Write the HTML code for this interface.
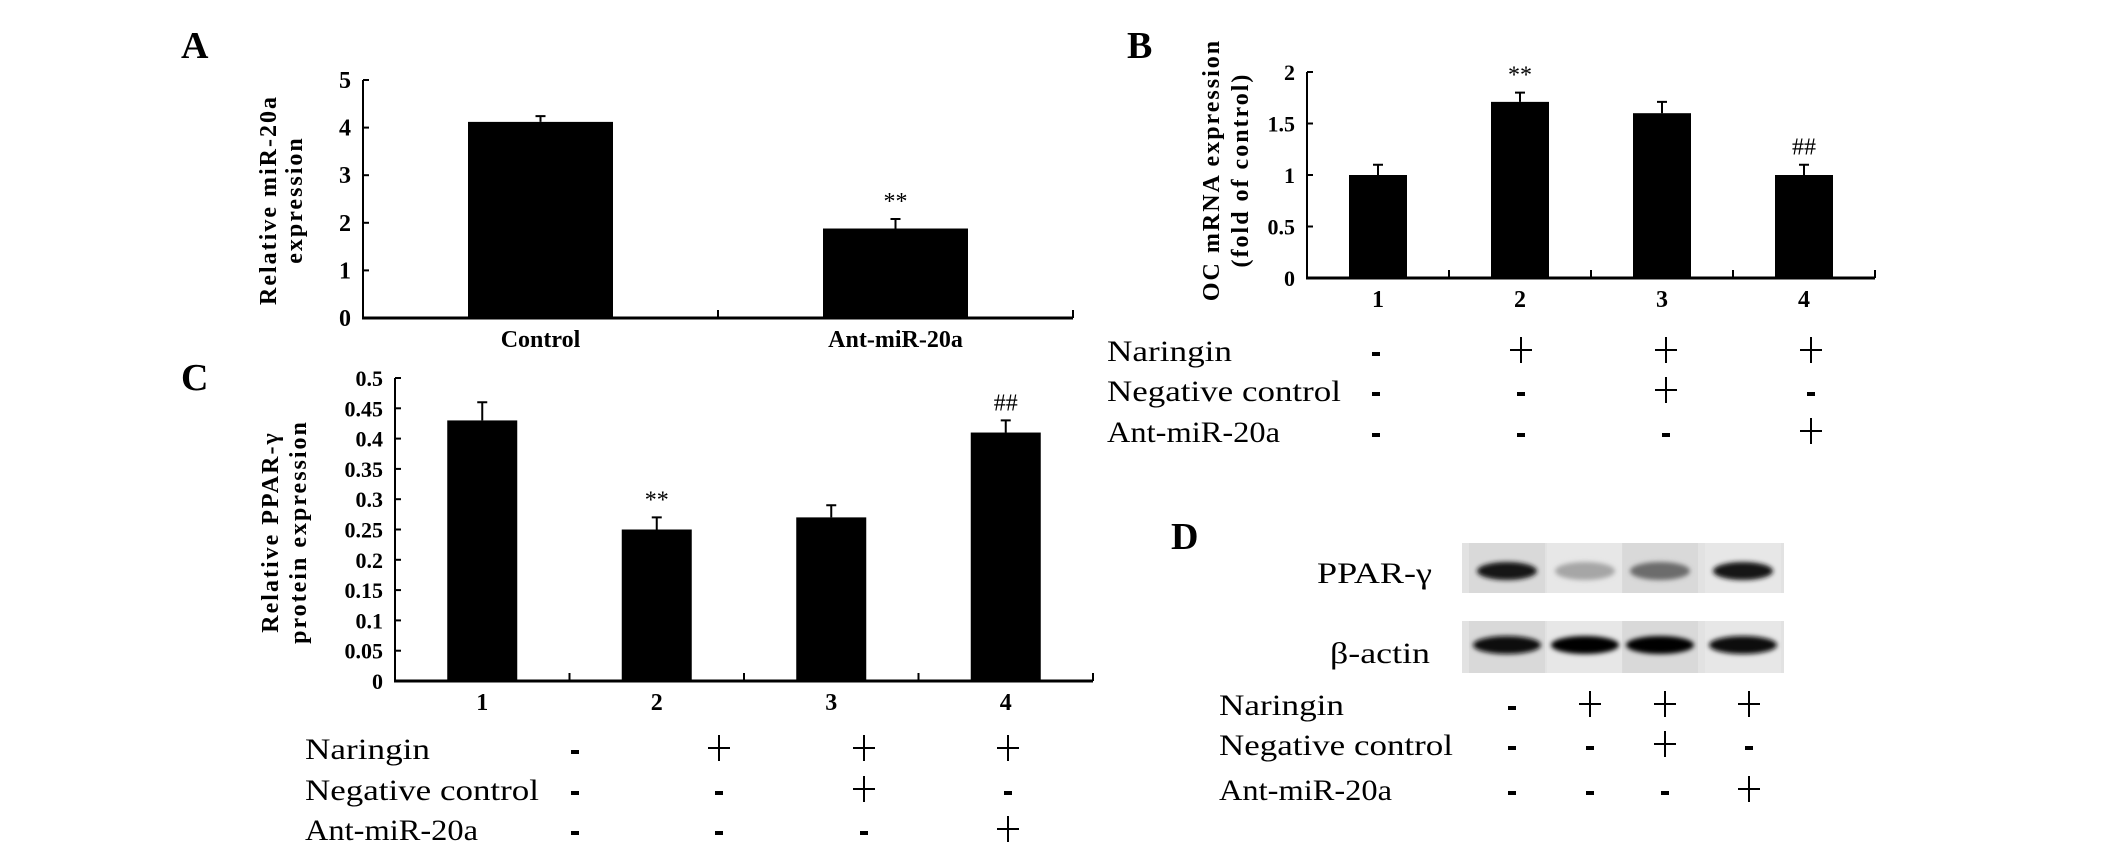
<!DOCTYPE html>
<html><head><meta charset="utf-8"><style>
html,body{margin:0;padding:0;background:#fff;}
svg{display:block;font-family:"Liberation Serif",serif;}
</style></head><body>
<svg id="fig" width="2126" height="853" viewBox="0 0 2126 853" xmlns="http://www.w3.org/2000/svg">
<defs>
<filter id="blur" x="-20%" y="-50%" width="140%" height="200%"><feGaussianBlur stdDeviation="2.5"/></filter>
</defs>
<text x="181" y="58" font-size="38" font-weight="bold">A</text>
<text x="1127" y="58" font-size="38" font-weight="bold">B</text>
<text x="181" y="390" font-size="38" font-weight="bold">C</text>
<text x="1171" y="549" font-size="38" font-weight="bold">D</text>
<g id="gA"></g>
<g id="gB"></g>
<g id="gC"></g>
<g id="gD"></g>
</svg>
<script>
// ---- data ----
const catsA = ["Control", "Ant-miR-20a"];
const valsA = [4.12, 1.88];
const errA = [0.12, 0.2];
const marksA = ["", "**"];
const ticksA = [0, 1, 2, 3, 4, 5];

const catsB = ["1", "2", "3", "4"];
const valsB = [1.0, 1.71, 1.6, 1.0];
const errB = [0.1, 0.09, 0.11, 0.1];
const marksB = ["", "**", "", "##"];
const ticksB = ["0", "0.5", "1", "1.5", "2"];

const catsC = ["1", "2", "3", "4"];
const valsC = [0.43, 0.25, 0.27, 0.41];
const errC = [0.03, 0.02, 0.02, 0.02];
const marksC = ["", "**", "", "##"];
const ticksC = ["0", "0.05", "0.1", "0.15", "0.2", "0.25", "0.3", "0.35", "0.4", "0.45", "0.5"];

const rowLabels = ["Naringin", "Negative control", "Ant-miR-20a"];
const naringin = ["-", "+", "+", "+"];
const negControl = ["-", "-", "+", "-"];
const antMiR = ["-", "-", "-", "+"];

const pparBand = [0.92, 0.3, 0.55, 0.92];
const actinBand = [0.97, 1.0, 1.0, 0.97];

const NS = "http://www.w3.org/2000/svg";
const labelWidths = {"Naringin": 125, "Negative control": 234, "Ant-miR-20a": 173};
function mk(parent, tag, attrs, text) {
  const e = document.createElementNS(NS, tag);
  for (const k in attrs) e.setAttribute(k, attrs[k]);
  if (text !== undefined) e.textContent = text;
  parent.appendChild(e);
  return e;
}

function barChart(g, o) {
  const y = v => o.y0 - (v / o.max) * (o.y0 - o.yTop);
  const n = o.cats.length;
  const cw = (o.x1 - o.x0) / n;
  const x = i => o.x0 + cw * (i + 0.5);
  let e;
  e = mk(g, "line", {x1: o.x0, y1: o.yTop, x2: o.x0, y2: o.y0 + 1, stroke: "#000", "stroke-width": 2});
  
  
  e = mk(g, "line", {x1: o.x0 - 1, y1: o.y0, x2: o.x1, y2: o.y0, stroke: "#000", "stroke-width": 3});
  
  
  o.ticks.forEach(t => {
    const v = parseFloat(t);
    const tk = mk(g, "line", {x1: o.x0, y1: y(v), x2: o.x0 + 6, y2: y(v), stroke: "#000", "stroke-width": 2});
    
    
    const tl = mk(g, "text", {x: o.x0 - 12, y: y(v) + 8, "font-size": o.tickFs, "font-weight": "bold", "text-anchor": "end"}, String(t));
    
    
  });
  for (let i = 1; i <= n; i++) {
    const xx = o.x0 + cw * i;
    const tk = mk(g, "line", {x1: xx, y1: o.y0, x2: xx, y2: o.y0 - 8, stroke: "#000", "stroke-width": 2});
    
    
  }
  o.cats.forEach((c, i) => {
    const cx = x(i);
    const eb = mk(g, "path", {d: `M${cx} ${y(o.vals[i])}V${y(o.vals[i] + o.err[i])}M${cx - 5} ${y(o.vals[i] + o.err[i])}H${cx + 5}`, stroke: "#000", "stroke-width": 2, fill: "none"});
    
    
    const b = mk(g, "rect", {x: cx - o.bw / 2, y: y(o.vals[i]), width: o.bw, height: o.y0 - y(o.vals[i]), fill: "#000"});
    
    
    if (o.marks[i]) {
      const m = mk(g, "text", {x: cx, y: y(o.vals[i] + o.err[i]) - 10, "font-size": 24, "text-anchor": "middle"}, o.marks[i]);
      
      
    }
    const cl = mk(g, "text", {x: cx, y: o.y0 + 29, "font-size": o.catFs, "font-weight": "bold", "text-anchor": "middle"}, c);
    
    
  });
  o.title.forEach((t, k) => {
    const tx = o.titleX[k];
    const tt = mk(g, "text", {x: tx, y: o.titleY, transform: `rotate(-90 ${tx} ${o.titleY})`, "font-size": 24, "font-weight": "bold", "text-anchor": "middle", "letter-spacing": "2"}, t);
    
    
  });
}

function signTable(g, lx, cols, rows, fs) {
  const data = [naringin, negControl, antMiR];
  rowLabels.forEach((r, k) => {
    const t = mk(g, "text", {x: lx, y: rows[k] + 11, "font-size": fs, textLength: labelWidths[r], lengthAdjust: "spacingAndGlyphs"}, r);
    
    
    data[k].forEach((s, i) => {
      const cx = cols[i], cy = rows[k];
      let e;
      if (s === "+") {
        e = mk(g, "path", {d: `M${cx - 11} ${cy}H${cx + 11}M${cx} ${cy - 13}V${cy + 13}`, stroke: "#000", "stroke-width": 2, fill: "none"});
        
      } else {
        e = mk(g, "rect", {x: cx - 4, y: cy + 2, width: 8, height: 4, fill: "#000"});
        
      }
      
    });
  });
}

barChart(document.getElementById("gA"), {cats: catsA, vals: valsA, err: errA, marks: marksA, ticks: ticksA, max: 5,
  x0: 363, x1: 1073, y0: 318, yTop: 80, bw: 145, tickFs: 24, catFs: 24,
  title: ["Relative miR-20a", "expression"], titleX: [276, 302], titleY: 200});
barChart(document.getElementById("gB"), {cats: catsB, vals: valsB, err: errB, marks: marksB, ticks: ticksB, max: 2,
  x0: 1307, x1: 1875, y0: 278, yTop: 72, bw: 58, tickFs: 22, catFs: 24,
  title: ["OC mRNA expression", "(fold of control)"], titleX: [1219, 1248], titleY: 170});
barChart(document.getElementById("gC"), {cats: catsC, vals: valsC, err: errC, marks: marksC, ticks: ticksC, max: 0.5,
  x0: 395, x1: 1093, y0: 681, yTop: 378, bw: 70, tickFs: 22, catFs: 24,
  title: ["Relative PPAR-γ", "protein expression"], titleX: [278, 306], titleY: 532});

signTable(document.getElementById("gB"), 1107, [1376, 1521, 1666, 1811], [350, 390, 431], 30);
signTable(document.getElementById("gC"), 305, [575, 719, 864, 1008], [748, 789, 829], 30);

// western blot
const gD = document.getElementById("gD");
const lanes = [1507, 1585, 1660, 1743];
function blot(y0, h, bandY, bands, name, bw) {
  const bg = mk(gD, "rect", {x: 1462, y: y0, width: 322, height: h, fill: "#e2e2e2"});
  
  
  lanes.forEach((lx, i) => {
    const sh = mk(gD, "rect", {x: lx - 38, y: y0, width: 76, height: h, fill: i % 2 ? "#ebebeb" : "#cfcfcf", opacity: 0.5});
    
    
    const g = Math.round(235 - bands[i] * 230);
    const b = mk(gD, "ellipse", {cx: lx, cy: bandY, rx: bw, ry: 9, fill: `rgb(${g},${g},${g})`, filter: "url(#blur)"});
    
    
  });
}
blot(543, 50, 571, pparBand, "ppar-gamma", 30);
blot(621, 52, 645, actinBand, "beta-actin", 34);
let t = mk(gD, "text", {x: 1432, y: 583, "font-size": 30, "text-anchor": "end", textLength: 115, lengthAdjust: "spacingAndGlyphs"}, "PPAR-γ");


t = mk(gD, "text", {x: 1430, y: 663, "font-size": 30, "text-anchor": "end", textLength: 100, lengthAdjust: "spacingAndGlyphs"}, "β-actin");


signTable(gD, 1219, [1512, 1590, 1665, 1749], [704, 744, 789], 30);
</script>
</body></html>
